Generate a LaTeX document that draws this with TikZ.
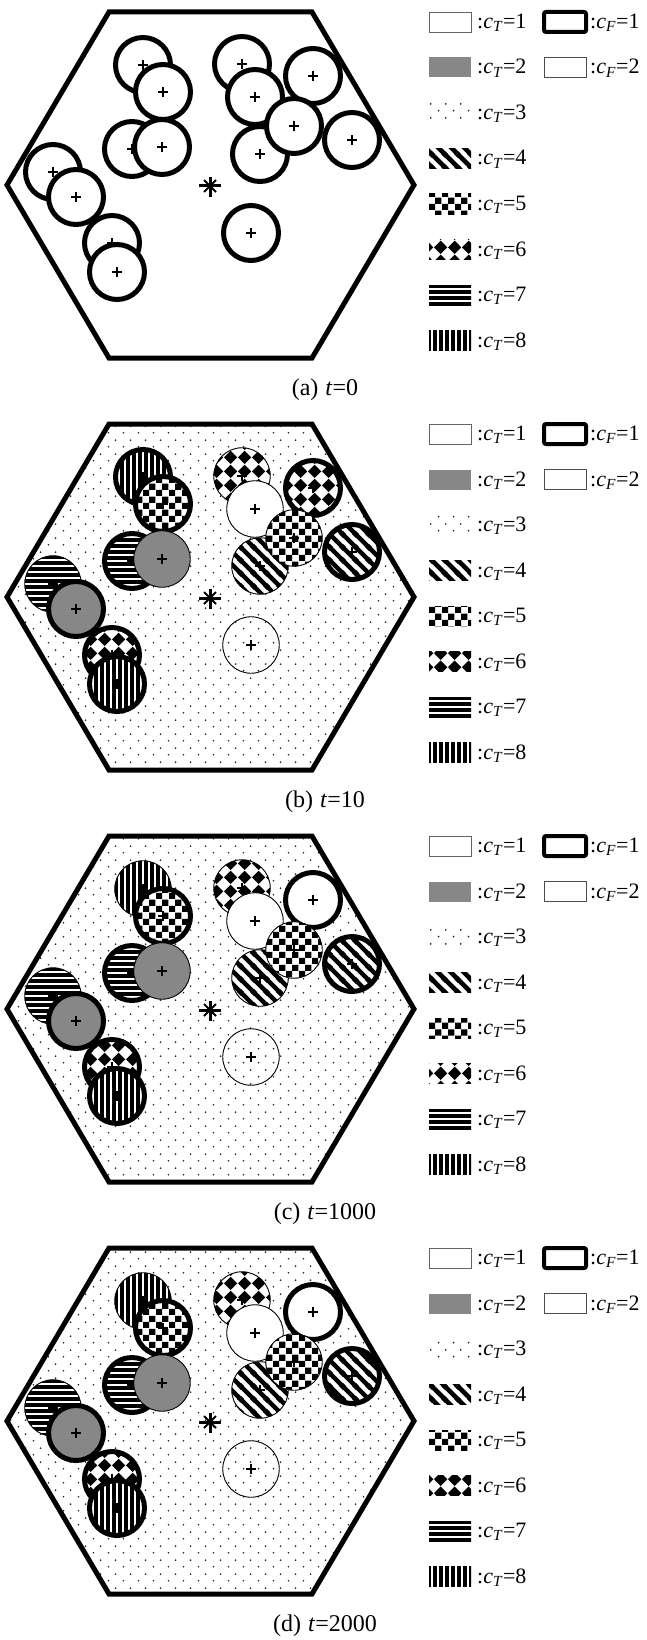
\documentclass[tikz,border=0pt]{standalone}
\usepackage{fontspec}
\setmainfont{Liberation Serif}
\usetikzlibrary{patterns}

% fill patterns for the particle types
\pgfdeclarepatternformonly{ckrp}{\pgfqpoint{0pt}{0pt}}{\pgfqpoint{13pt}{13pt}}{\pgfqpoint{13pt}{13pt}}{%
  \pgfpathrectangle{\pgfqpoint{0pt}{0pt}}{\pgfqpoint{6.5pt}{6.5pt}}%
  \pgfpathrectangle{\pgfqpoint{6.5pt}{6.5pt}}{\pgfqpoint{6.5pt}{6.5pt}}%
  \pgfusepath{fill}}
\pgfdeclarepatternformonly{diap}{\pgfqpoint{0pt}{0pt}}{\pgfqpoint{14pt}{14pt}}{\pgfqpoint{14pt}{14pt}}{%
  \pgfpathmoveto{\pgfqpoint{0pt}{7pt}}\pgfpathlineto{\pgfqpoint{7pt}{0pt}}%
  \pgfpathlineto{\pgfqpoint{14pt}{7pt}}\pgfpathlineto{\pgfqpoint{7pt}{14pt}}\pgfpathclose
  \pgfusepath{fill}}
\pgfdeclarepatternformonly{dstrp}{\pgfqpoint{0pt}{0pt}}{\pgfqpoint{12.7pt}{12.7pt}}{\pgfqpoint{12.7pt}{12.7pt}}{%
  \pgfsetlinewidth{4.6pt}%
  \pgfpathmoveto{\pgfqpoint{-3pt}{15.7pt}}\pgfpathlineto{\pgfqpoint{15.7pt}{-3pt}}%
  \pgfpathmoveto{\pgfqpoint{-3pt}{3pt}}\pgfpathlineto{\pgfqpoint{3pt}{-3pt}}%
  \pgfpathmoveto{\pgfqpoint{9.7pt}{15.7pt}}\pgfpathlineto{\pgfqpoint{15.7pt}{9.7pt}}%
  \pgfusepath{stroke}}
\pgfdeclarepatternformonly{dotsp}{\pgfqpoint{0pt}{0pt}}{\pgfqpoint{15pt}{14pt}}{\pgfqpoint{15pt}{14pt}}{%
  \pgfpathcircle{\pgfqpoint{3.75pt}{3.5pt}}{1pt}%
  \pgfpathcircle{\pgfqpoint{11.25pt}{10.5pt}}{1pt}%
  \pgfusepath{fill}}

\tikzset{
  hexfr/.style={draw, line width=5pt, line join=miter},
  ptk/.style={circle, draw, line width=5pt, minimum size=55pt, inner sep=0pt, outer sep=0pt},
  ptn/.style={circle, draw, line width=0.9pt, minimum size=56.5pt, inner sep=0pt, outer sep=0pt},
  crossln/.style={line width=1.4pt},
  t1/.style={fill=white},
  t2/.style={fill=black!47},
  t3/.style={preaction={fill=white}, pattern=dotsp, pattern color=black!85},
  t4/.style={preaction={fill=white}, pattern=dstrp},
  t5/.style={preaction={fill=white}, pattern=ckrp},
  t6/.style={preaction={fill=white}, pattern=diap},
  % stripes drawn as bands clipped to the shape
  t7/.style={fill=white, path picture={%
    \foreach \k in {-33,-27,...,33}{%
      \fill[black] ([yshift=\k pt]path picture bounding box.center) +(-35,-1.6) rectangle +(35,1.6);}}},
  t8/.style={fill=white, path picture={%
    \foreach \k in {-33,-27,...,33}{%
      \fill[black] ([xshift=\k pt]path picture bounding box.center) +(-1.6,-35) rectangle +(1.6,35);}}},
  lgbox/.style={rectangle, minimum width=42pt, minimum height=20pt, inner sep=0pt, outer sep=0pt},
  lgtxt/.style={inner sep=0pt, anchor=base west, font=\fontsize{22}{26}\selectfont},
  capt/.style={inner sep=0pt, font=\fontsize{24}{28}\selectfont},
}

% particle centres of one panel
\newcommand\particlesites{%
  \coordinate (p1) at (143,65);   \coordinate (p2) at (163,92);
  \coordinate (p3) at (132,149);  \coordinate (p4) at (162,147);
  \coordinate (p5) at (53,172);   \coordinate (p6) at (76,197);
  \coordinate (p7) at (112,243);  \coordinate (p8) at (117,272);
  \coordinate (p9) at (242,64);   \coordinate (p10) at (255,97);
  \coordinate (p11) at (313,76);  \coordinate (p12) at (294,126);
  \coordinate (p13) at (260,154); \coordinate (p14) at (352,140);
  \coordinate (p15) at (251,233);
}
% #1 name prefix, #2 list of index/border/fill
\newcommand\particles[2]{%
  \foreach \n/\bd/\fl in {#2}{%
    \edef\mkpart{\noexpand\node[\bd,\fl] (#1\n) at (p\n) {};
      \noexpand\draw[crossln] (#1\n.center) +(-5,0) -- +(5,0) +(0,-5) -- +(0,5);}%
    \mkpart
  }%
}
% hexagonal domain; #1 prefix, #2 fill style
\newcommand\domain[2]{%
  \draw[hexfr,#2] (109,12) -- (312,12) -- (414,185) -- (312,358) -- (109,358) -- (7,185) -- cycle;
}
% mark at the centre of the domain
\newcommand\centremark[1]{%
  \coordinate (#1ctr) at (210,186);
  \draw[line width=3pt] (#1ctr) +(-11,0) -- +(11,0) +(0,-9) -- +(0,11);
  \draw[line width=1.8pt] (#1ctr) +(-6,-6) -- +(6,6) +(-6,6) -- +(6,-6);
}
% key of types and frames; #1 prefix
\newcommand\typekey[1]{%
  \foreach \i in {1,...,8}{%
    \pgfmathsetmacro\ly{22+45.5*(\i-1)}%
    \edef\mkbox{\noexpand\node[lgbox,t\i] (#1b\i) at (450,\ly) {};}%
    \mkbox
    \node[lgtxt] (#1t\i) at (477,\ly+6.5) {:\textit{c}\textsubscript{\textit{T}}=\i};
  }%
  \draw[black!60, line width=0.6pt] (#1b1.south west) rectangle (#1b1.north east);
  \node[lgbox, draw, line width=4pt, rounded corners=2pt] (#1f1) at (565,22) {};
  \node[lgtxt] (#1g1) at (590,28.5) {:\textit{c}\textsubscript{\textit{F}}=1};
  \node[lgbox, draw=black!70, line width=0.7pt] (#1f2) at (565,67.5) {};
  \node[lgtxt] (#1g2) at (590,74) {:\textit{c}\textsubscript{\textit{F}}=2};
}

\begin{document}
\begin{tikzpicture}[x=1pt,y=-1pt]
\useasboundingbox (0,0) rectangle (647,1640);

% (a) initial state
\begin{scope}
  \domain{a}{fill=white}
  \particlesites
  \particles{a}{1/ptk/t1,2/ptk/t1,3/ptk/t1,4/ptk/t1,5/ptk/t1,6/ptk/t1,7/ptk/t1,8/ptk/t1,
    9/ptk/t1,10/ptk/t1,11/ptk/t1,13/ptk/t1,12/ptk/t1,14/ptk/t1,15/ptk/t1}
  \centremark{a}
  \typekey{a}
  \node[capt] (capa) at (325,390) {(a)\hspace{7pt}\textit{t}=0};
\end{scope}

% (b)
\begin{scope}[shift={(0,412)}]
  \domain{b}{t3}
  \particlesites
  \particles{b}{1/ptk/t8,2/ptk/t5,3/ptk/t7,4/ptn/t2,5/ptn/t7,6/ptk/t2,7/ptk/t6,8/ptk/t8,
    9/ptn/t6,10/ptn/t1,11/ptk/t6,13/ptn/t4,12/ptn/t5,14/ptk/t4,15/ptn/t3}
  \centremark{b}
  \typekey{b}
  \node[capt] (capb) at (325,390) {(b)\hspace{7pt}\textit{t}=10};
\end{scope}

% (c)
\begin{scope}[shift={(0,824)}]
  \domain{c}{t3}
  \particlesites
  \particles{c}{1/ptn/t8,2/ptk/t5,3/ptk/t7,4/ptn/t2,5/ptn/t7,6/ptk/t2,7/ptk/t6,8/ptk/t8,
    9/ptn/t6,10/ptn/t1,11/ptk/t1,13/ptn/t4,12/ptn/t5,14/ptk/t4,15/ptn/t3}
  \centremark{c}
  \typekey{c}
  \node[capt] (capc) at (325,390) {(c)\hspace{7pt}\textit{t}=1000};
\end{scope}

% (d)
\begin{scope}[shift={(0,1236)}]
  \domain{d}{t3}
  \particlesites
  \particles{d}{1/ptn/t8,2/ptk/t5,3/ptk/t7,4/ptn/t2,5/ptn/t7,6/ptk/t2,7/ptk/t6,8/ptk/t8,
    9/ptn/t6,10/ptn/t1,11/ptk/t1,13/ptn/t4,12/ptn/t5,14/ptk/t4,15/ptn/t3}
  \centremark{d}
  \typekey{d}
  \node[capt] (capd) at (325,390) {(d)\hspace{7pt}\textit{t}=2000};
\end{scope}
\end{tikzpicture}
\end{document}
